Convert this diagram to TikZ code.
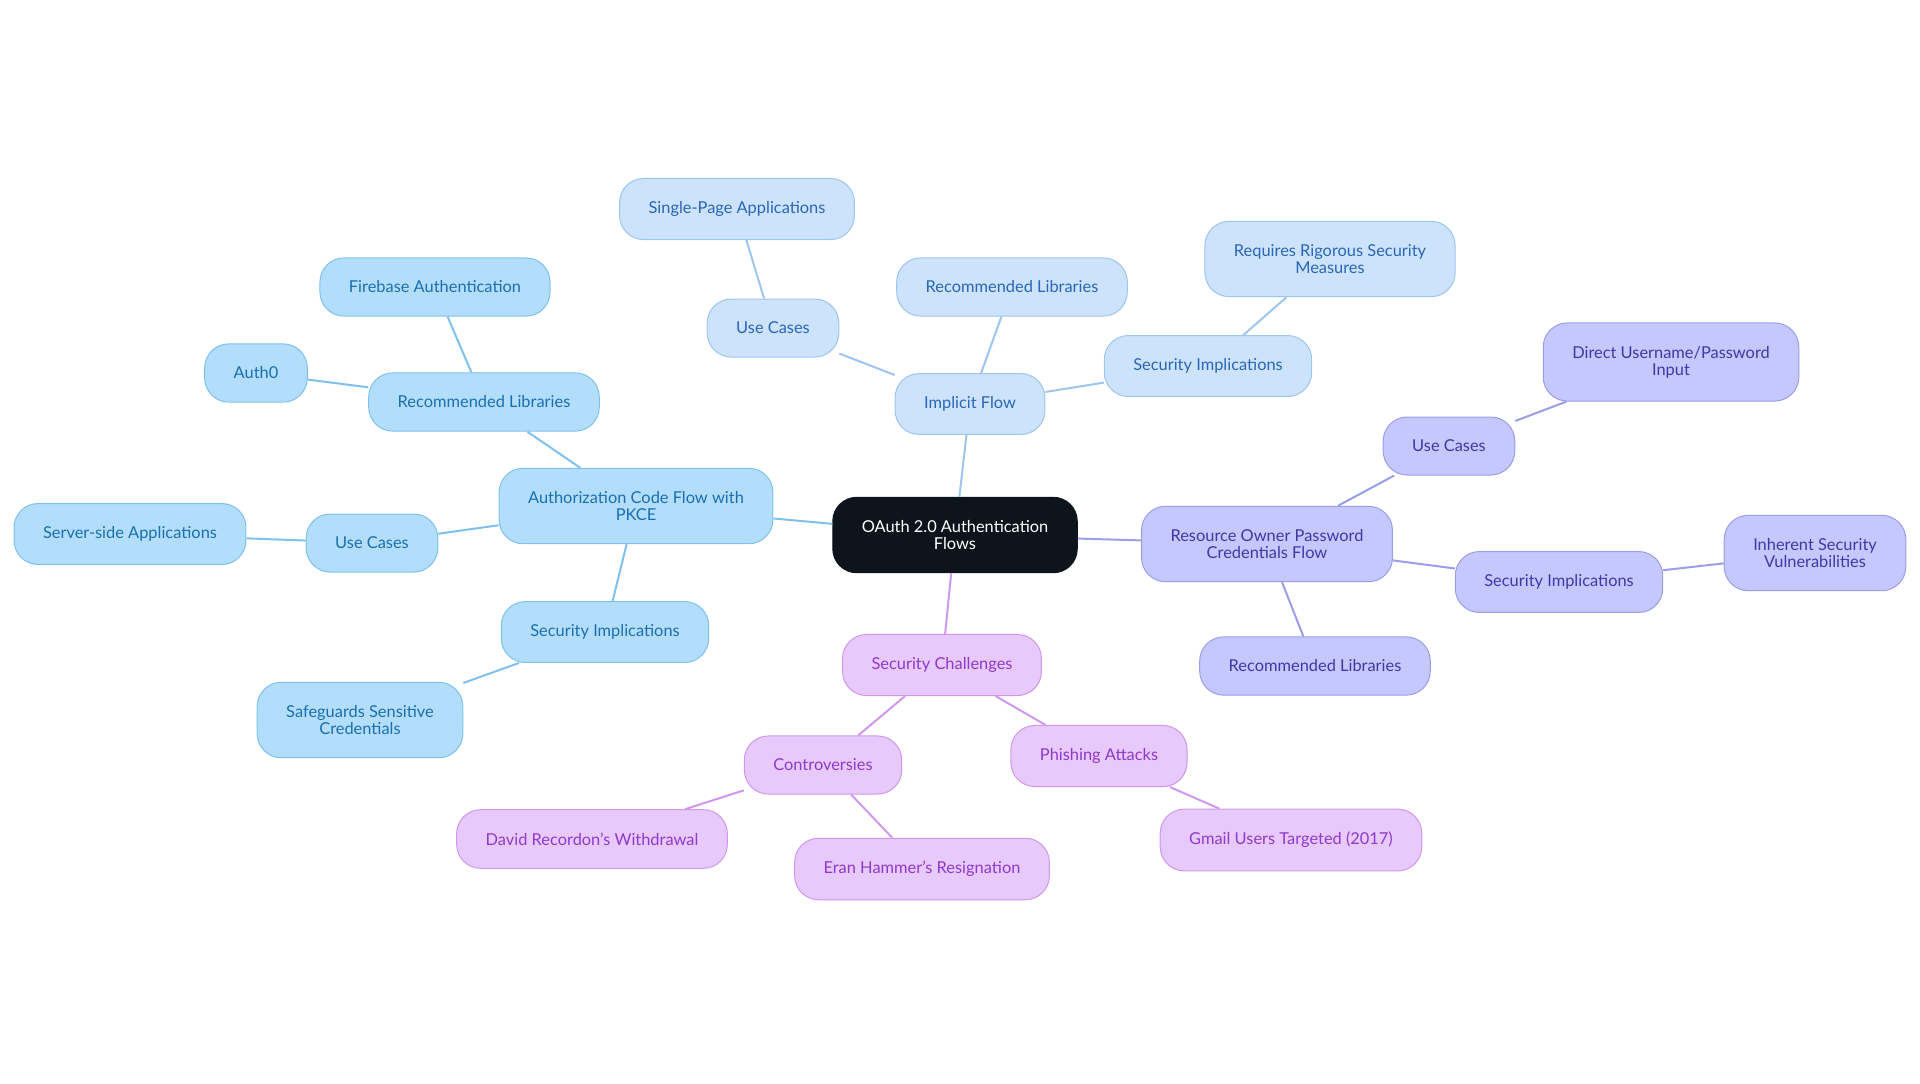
\documentclass[tikz,border=0pt]{standalone}
\usepackage{fontspec}
\setmainfont{Lato}
\usepackage{tikz}
\usetikzlibrary{positioning}

\definecolor{acffill}{HTML}{B3DEFB}
\definecolor{acfdraw}{HTML}{7EC1EC}
\definecolor{acftext}{HTML}{1A6FB0}
\definecolor{impfill}{HTML}{CCE3FB}
\definecolor{impdraw}{HTML}{9EC5EE}
\definecolor{imptext}{HTML}{2A66B8}
\definecolor{ropcfill}{HTML}{C5C8FC}
\definecolor{ropcdraw}{HTML}{9A9EEA}
\definecolor{ropctext}{HTML}{3B3AA8}
\definecolor{secfill}{HTML}{E8C9FB}
\definecolor{secdraw}{HTML}{CF98EE}
\definecolor{sectext}{HTML}{8E3ACB}
\definecolor{rootfill}{HTML}{0D141C}

\begin{document}
\begin{tikzpicture}[x=0.5pt, y=-0.5pt,
    every node/.style={rectangle, rounded corners=12pt, align=center, minimum height=29pt, inner xsep=14.5pt, inner ysep=11.5pt, line width=0.5pt, font=\fontsize{8.2}{8.6}\selectfont},
    rootnode/.style={fill=rootfill, draw=rootfill, text=white},
    acfnode/.style={fill=acffill, draw=acfdraw, text=acftext},
    impnode/.style={fill=impfill, draw=impdraw, text=imptext},
    ropcnode/.style={fill=ropcfill, draw=ropcdraw, text=ropctext},
    secnode/.style={fill=secfill, draw=secdraw, text=sectext},
    acfline/.style={draw=acfdraw, line width=1pt},
    impline/.style={draw=impdraw, line width=1pt},
    ropcline/.style={draw=ropcdraw, line width=1pt},
    secline/.style={draw=secdraw, line width=1pt}]
    \useasboundingbox (0, 0) rectangle (1920, 1083);

    \node [rootnode] (root) at (955, 535) {OAuth 2.0 Authentication\\Flows};

    % authorization code flow
    \node [acfnode] (acf) at (636, 506) {Authorization Code Flow with\\PKCE};
    \node [acfnode] (acflib) at (484, 402) {Recommended Libraries};
    \node [acfnode] (fire) at (435, 287) {Firebase Authentication};
    \node [acfnode] (auth0) at (256, 373) {Auth0};
    \node [acfnode] (acfuse) at (372, 543) {Use Cases};
    \node [acfnode] (server) at (130, 534) {Server-side Applications};
    \node [acfnode] (acfsec) at (605, 632) {Security Implications};
    \node [acfnode] (safe) at (360, 720) {Safeguards Sensitive\\Credentials};

    % implicit flow
    \node [impnode] (imp) at (970, 404) {Implicit Flow};
    \node [impnode] (impuse) at (773, 328) {Use Cases};
    \node [impnode] (spa) at (737, 209) {Single-Page Applications};
    \node [impnode] (implib) at (1012, 287) {Recommended Libraries};
    \node [impnode] (impsec) at (1208, 366) {Security Implications};
    \node [impnode] (rigor) at (1330, 259) {Requires Rigorous Security\\Measures};

    % resource owner password credentials flow
    \node [ropcnode] (ropc) at (1267, 544) {Resource Owner Password\\Credentials Flow};
    \node [ropcnode] (ropcuse) at (1449, 446) {Use Cases};
    \node [ropcnode] (direct) at (1671, 362) {Direct Username/Password\\Input};
    \node [ropcnode] (ropcsec) at (1559, 582) {Security Implications};
    \node [ropcnode] (inherent) at (1815, 553) {Inherent Security\\Vulnerabilities};
    \node [ropcnode] (ropclib) at (1315, 666) {Recommended Libraries};

    % security challenges
    \node [secnode] (chal) at (942, 665) {Security Challenges};
    \node [secnode] (contro) at (823, 765) {Controversies};
    \node [secnode] (david) at (592, 839) {David Recordon's Withdrawal};
    \node [secnode] (eran) at (922, 869) {Eran Hammer's Resignation};
    \node [secnode] (phish) at (1099, 756) {Phishing Attacks};
    \node [secnode] (gmail) at (1291, 840) {Gmail Users Targeted (2017)};

    \draw [acfline] (root) -- (acf);
    \draw [acfline] (acf) -- (acflib);
    \draw [acfline] (acflib) -- (fire);
    \draw [acfline] (acflib) -- (auth0);
    \draw [acfline] (acf) -- (acfuse);
    \draw [acfline] (acfuse) -- (server);
    \draw [acfline] (acf) -- (acfsec);
    \draw [acfline] (acfsec) -- (safe);

    \draw [impline] (root) -- (imp);
    \draw [impline] (imp) -- (impuse);
    \draw [impline] (impuse) -- (spa);
    \draw [impline] (imp) -- (implib);
    \draw [impline] (imp) -- (impsec);
    \draw [impline] (impsec) -- (rigor);

    \draw [ropcline] (root) -- (ropc);
    \draw [ropcline] (ropc) -- (ropcuse);
    \draw [ropcline] (ropcuse) -- (direct);
    \draw [ropcline] (ropc) -- (ropcsec);
    \draw [ropcline] (ropcsec) -- (inherent);
    \draw [ropcline] (ropc) -- (ropclib);

    \draw [secline] (root) -- (chal);
    \draw [secline] (chal) -- (contro);
    \draw [secline] (contro) -- (david);
    \draw [secline] (contro) -- (eran);
    \draw [secline] (chal) -- (phish);
    \draw [secline] (phish) -- (gmail);
\end{tikzpicture}
\end{document}
